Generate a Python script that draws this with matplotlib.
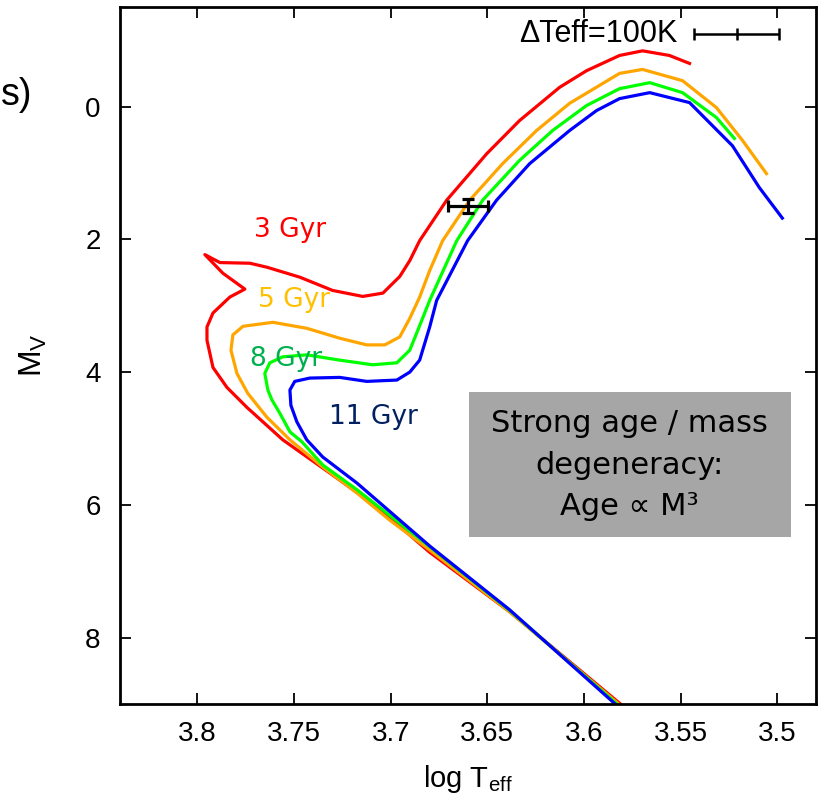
import numpy as np
import matplotlib.pyplot as plt
from matplotlib.patches import Rectangle

plt.rcParams['font.family'] = ['Liberation Sans', 'DejaVu Sans']
plt.rcParams['mathtext.default'] = 'regular'

# isochrones: (log Teff, M_V)
T_3GYR = [3.577, 3.638, 3.680, 3.707, 3.7315, 3.7558, 3.7744, 3.7847, 3.7919,
          3.7950, 3.7950, 3.7919, 3.7832, 3.7754, 3.7868, 3.7961, 3.7883,
          3.7728, 3.7640, 3.747, 3.730, 3.7144, 3.704, 3.6953, 3.6901, 3.685,
          3.6710, 3.6503, 3.6333, 3.6126, 3.5987, 3.5816, 3.5697, 3.5558, 3.5454]
MV_3GYR = [9.10, 7.62, 6.71, 6.03, 5.52, 5.02, 4.53, 4.23, 3.93,
           3.52, 3.32, 3.11, 2.87, 2.75, 2.51, 2.23, 2.35,
           2.36, 2.42, 2.57, 2.77, 2.86, 2.81, 2.56, 2.32, 2.02,
           1.41, 0.71, 0.21, -0.29, -0.54, -0.77, -0.84, -0.77, -0.65]

T_5GYR = [3.578, 3.6385, 3.6798, 3.7005, 3.7175, 3.7351, 3.7521, 3.7640, 3.7739,
          3.7795, 3.7826, 3.7816, 3.7764, 3.7609, 3.7434, 3.7263, 3.7124, 3.703,
          3.6953, 3.6901, 3.685, 3.6798, 3.6731, 3.6591, 3.6421, 3.6245, 3.6074,
          3.5816, 3.5697, 3.549, 3.5315, 3.518, 3.5056]
MV_5GYR = [9.10, 7.61, 6.68, 6.23, 5.82, 5.43, 5.02, 4.68, 4.32,
           4.02, 3.67, 3.44, 3.31, 3.25, 3.34, 3.49, 3.59, 3.59,
           3.47, 3.19, 2.87, 2.47, 2.02, 1.41, 0.86, 0.36, -0.05,
           -0.50, -0.56, -0.39, 0.015, 0.51, 1.01]

T_8GYR = [3.579, 3.6385, 3.6798, 3.7175, 3.7351, 3.7459, 3.7521, 3.7573, 3.7614,
          3.7635, 3.7651, 3.7625, 3.7558, 3.7434, 3.7263, 3.7093, 3.6968, 3.6901,
          3.6865, 3.6798, 3.6658, 3.6524, 3.6333, 3.6162, 3.5987, 3.5816, 3.566,
          3.549, 3.5315, 3.5222]
MV_8GYR = [9.10, 7.59, 6.63, 5.77, 5.40, 5.05, 4.90, 4.62, 4.42,
           4.27, 4.02, 3.86, 3.77, 3.74, 3.82, 3.89, 3.86, 3.67,
           3.41, 2.92, 2.02, 1.41, 0.81, 0.36, -0.015, -0.27, -0.36,
           -0.21, 0.165, 0.48]

T_11GYR = [3.580, 3.6385, 3.6798, 3.7175, 3.7351, 3.7434, 3.7485, 3.7516, 3.7521,
           3.7496, 3.7418, 3.7263, 3.7124, 3.6968, 3.6901, 3.685, 3.6798, 3.6762,
           3.6602, 3.6452, 3.6281, 3.6074, 3.5935, 3.5816, 3.566, 3.5454, 3.5232,
           3.5093, 3.4974]
MV_11GYR = [9.10, 7.58, 6.62, 5.67, 5.28, 5.02, 4.75, 4.50, 4.27,
            4.14, 4.09, 4.08, 4.14, 4.12, 4.00, 3.82, 3.32, 2.92,
            2.02, 1.41, 0.86, 0.36, 0.06, -0.12, -0.21, -0.06, 0.59,
            1.22, 1.68]

# star with error bars and the 100 K scale bar
STAR_T, STAR_MV = 3.66, 1.5
STAR_TERR, STAR_MVERR = 0.0103, 0.11
SCALE_T, SCALE_MV, SCALE_TERR = 3.521, -1.10, 0.022

XTICKS = [3.8, 3.75, 3.7, 3.65, 3.6, 3.55, 3.5]
XTICKLABELS = ['3.8', '3.75', '3.7', '3.65', '3.6', '3.55', '3.5']
YTICKS = [0, 2, 4, 6, 8]

fig = plt.figure(figsize=(8.19, 7.97), dpi=100)
ax = fig.add_axes([0.1465, 0.1167, 0.8498, 0.8745])

lw = 2.3
ax.plot(T_3GYR, MV_3GYR, color='#ff0000', lw=lw, solid_joinstyle='round')
ax.plot(T_5GYR, MV_5GYR, color='#ffa500', lw=lw, solid_joinstyle='round')
ax.plot(T_8GYR, MV_8GYR, color='#00ff00', lw=lw, solid_joinstyle='round')
ax.plot(T_11GYR, MV_11GYR, color='#0000ff', lw=lw, solid_joinstyle='round')

ax.errorbar([STAR_T], [STAR_MV], xerr=[STAR_TERR], yerr=[STAR_MVERR],
            fmt='none', ecolor='black', elinewidth=2.3, capsize=4, capthick=2.3)
ax.errorbar([SCALE_T], [SCALE_MV], xerr=[SCALE_TERR], fmt='|', color='black',
            ms=8, mew=1.8, elinewidth=1.8, capsize=4, capthick=1.8)
ax.text(3.5516, SCALE_MV, 'ΔTeff=100K', ha='right', va='center', fontsize=22)

# age labels
age_kw = dict(fontsize=19, ha='center', va='center', family='DejaVu Sans')
ax.text(3.7521, 1.865, '3 Gyr', color='#ff0000', **age_kw)
ax.text(3.750, 2.917, '5 Gyr', color='#ffc000', **age_kw)
ax.text(3.7542, 3.80, '8 Gyr', color='#00b050', **age_kw)
ax.text(3.7087, 4.68, '11 Gyr', color='#002060', **age_kw)

# grey note box
ax.add_patch(Rectangle((3.6596, 4.30), 3.4927 - 3.6596, 6.48 - 4.30,
                       facecolor='#a6a6a6', edgecolor='none', zorder=3))
ax.text(3.5764, 5.40, 'Strong age / mass\ndegeneracy:\nAge ∝ M³', ha='center',
        va='center', fontsize=22, linespacing=1.55, family='DejaVu Sans', zorder=4)

ax.set_xlim(3.84, 3.48)
ax.set_ylim(9.0, -1.5)
ax.set_xticks(XTICKS)
ax.set_xticklabels(XTICKLABELS)
ax.set_yticks(YTICKS)
ax.tick_params(direction='in', length=8, width=1.3, labelsize=20,
               top=True, right=True)
ax.tick_params(axis='x', pad=12)
ax.tick_params(axis='y', pad=14)
for s in ax.spines.values():
    s.set_linewidth(2.0)

ax.set_xlabel('log T$_{eff}$', fontsize=21, labelpad=12)
ax.set_ylabel('M$_V$', fontsize=23, labelpad=26)

# fragment of a panel label at the left edge, kept inside the canvas
fig.text(1 / 819, 1 - 95 / 797, 's)', ha='left', va='center', fontsize=27)

fig.savefig('out.png', dpi=100)
